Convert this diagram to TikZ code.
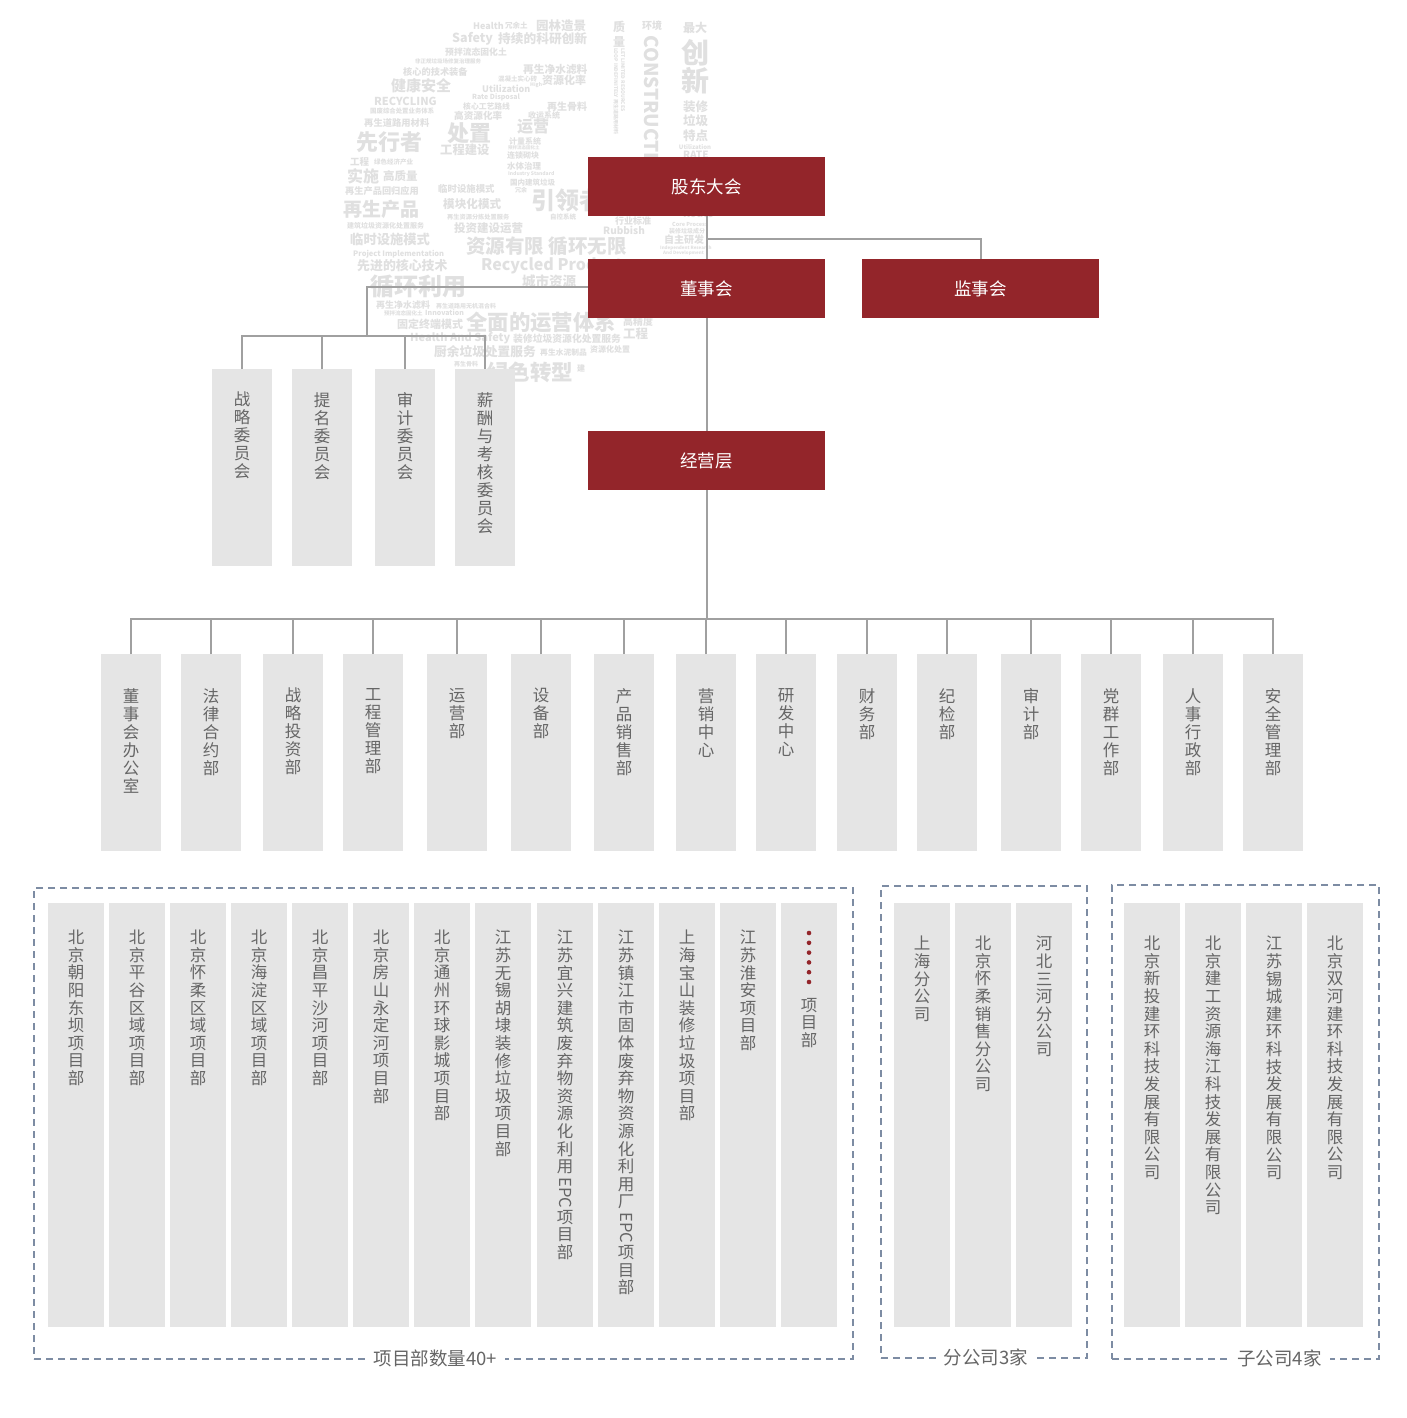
\documentclass[tikz,border=0pt]{standalone}
\usepackage{fontspec}
\setmainfont{Noto Sans CJK SC}
\usepackage{graphicx}
\definecolor{boardred}{RGB}{147,37,42}
\definecolor{boxgray}{RGB}{229,229,229}
\definecolor{txtgray}{RGB}{102,102,102}
\definecolor{linegray}{RGB}{160,160,160}
\definecolor{dashblue}{RGB}{125,140,163}
\definecolor{cloudgray}{RGB}{224,224,224}
\ExplSyntaxOn
\NewDocumentCommand\vstack{O{18}m}{
  \tl_set:No \l_tmpa_tl {#2}
  \vbox{\baselineskip=#1pt \lineskiplimit=0pt \lineskip=2pt
    \tl_map_inline:Nn \l_tmpa_tl {\hbox~to~1.2em{\hss##1\hss}}}
}
\ExplSyntaxOff
\newcommand\rotlatin[1]{\raisebox{0.78em}{\rotatebox{-90}{#1}}}
\begin{document}
\begin{tikzpicture}[x=1pt,y=-1pt,
  redbox/.style={fill=boardred,text=white,minimum width=237pt,minimum height=59pt,inner sep=0pt,font=\fontsize{17.5}{20}\selectfont},
  gbox/.style={fill=boxgray,inner sep=0pt,anchor=north west},
  vtxt/.style={text=txtgray,inner sep=0pt,anchor=north,font=\fontsize{16.5}{18}\selectfont},
  conn/.style={draw=linegray,line width=2pt},
  dashframe/.style={draw=dashblue,line width=2pt,dash pattern=on 7pt off 5pt,inner sep=0pt,anchor=north west},
  flabel/.style={fill=white,text=txtgray,inner xsep=8pt,inner ysep=2pt,font=\fontsize{18.5}{20}\selectfont},
  cloud/.style={text=cloudgray,inner sep=0pt,anchor=west}]
\fill[white] (0,0) rectangle (1407,1418);
\useasboundingbox (0,0) rectangle (1407,1418);

% ---------- background word cloud ----------
\foreach \x/\y/\s/\t [count=\i] in {
 473/26/9/Health, 505/26/7.5/冗余土, 536/26/12.5/园林造景,
 452/39/12.5/Safety, 498/39/12.7/持续的科研创新,
 445/52/8.8/预拌流态固化土, 415/61/5.5/非正规垃圾场修复治理服务,
 403/72/9.2/核心的技术装备, 523/69/10.7/再生净水滤料, 498/79/6.5/混凝土实心砖,
 542/80/11/资源化率, 391/86/15/健康安全, 482/89/9/Utilization, 530/85/5/High,
 374/101/11/RECYCLING, 472/97/7/Rate Disposal, 370/111/6.4/国废综合处置业务体系,
 463/106/7.8/核心工艺路线, 547/107/10/再生骨料, 454/116/9.6/高资源化率,
 528/115/8/收运系统, 364/123/9.3/再生道路用材料,
 356/142/22/先行者, 447/133/22/处置, 517/127/16/运营, 440/150/12.3/工程建设,
 509/141/8/计量系统, 508/148/4.5/预拌流态固化土, 507/156/8/连锁砌块, 507/166/8.5/水体治理,
 508/174/5/Industry Standard, 510/183/7.5/国内建筑垃圾, 515/190/6/冗余,
 350/162/9.5/工程, 374/162/6.5/绿色经济产业,
 347/176/16/实施, 383/176/11.5/高质量, 345/191/9.2/再生产品回归应用, 438/189/9.4/临时设施模式,
 531/200/24/引领者, 343/209/19/再生产品, 443/204/11.6/模块化模式, 550/217/6.5/自控系统,
 347/226/7/建筑垃圾资源化处置服务, 447/217/6.2/再生资源分拣处置服务, 454/228/11.5/投资建设运营,
 350/239/13.3/临时设施模式, 466/246/19.5/资源有限 循环无限, 353/254/7.5/Project Implementation,
 357/266/12.9/先进的核心技术, 481/266/16/Recycled Products, 522/281/13.5/城市资源,
 370/287/24/循环利用, 376/305/9/再生净水滤料, 436/306/6/再生道路用无机混合料,
 384/313/5.5/预拌流态固化土, 425/313/7/Innovation, 397/324/11/固定终端模式,
 466/322/21.4/全面的运营体系, 623/322/10/高精度, 410/338/11/Health And Safety,
 513/339/9.8/装修垃圾资源化处置服务, 623/334/12.5/工程, 434/352/12.7/厨余垃圾处置服务,
 540/353/7.8/再生水泥制品, 590/349/8/资源化处置, 454/364/6/再生骨料, 487/372/21.5/绿色转型,
 577/368/8/建, 642/26/10/环境, 683/28/12/最大,
 683/107/12.5/装修, 683/121/12.5/垃圾, 683/136/12.5/特点, 683/155/10/RATE,
 615/221/9/行业标准, 603/230/10/Rubbish, 672/224/5.5/Core Process, 683/214/10/Route,
 669/231/6/装修垃圾成分, 664/240/10/自主研发, 660/248/4.5/Independent Research, 663/253/4.5/And Development}
 {\node[cloud,font={\bfseries\fontsize{\s}{\s}\selectfont}] (cw\i) at (\x,\y) {\t};}
\node[cloud,anchor=center,font={\bfseries\fontsize{12}{12}\selectfont}] (cz1) at (619,27) {质};
\node[cloud,anchor=center,font={\bfseries\fontsize{12}{12}\selectfont}] (cz2) at (619,42) {量};
\node[cloud,anchor=center,font={\bfseries\fontsize{28}{28}\selectfont}] (cz3) at (695,53) {创};
\node[cloud,anchor=center,font={\bfseries\fontsize{28}{28}\selectfont}] (cz4) at (695,81) {新};
\node[cloud,anchor=center,font={\bfseries\fontsize{6}{6}\selectfont}] (cz5) at (695,147) {Utilization};
\node[cloud,rotate=-90,font={\bfseries\fontsize{19}{19}\selectfont}] (cz6) at (652,35) {CONSTRUCTION};
\node[cloud,rotate=-90,font={\bfseries\fontsize{5}{5}\selectfont}] (cz7) at (623,48) {LET LIMITED RESOURCES};
\node[cloud,rotate=-90,font={\bfseries\fontsize{5}{5}\selectfont}] (cz8) at (616,48) {LOOP INDEFINITELY 再生道路用材料};

% ---------- top boxes ----------
\node[redbox] (gd)  at (706.5,186.5) {股东大会};
\node[redbox] (dsh) at (706.5,288.5) {董事会};
\node[redbox] (jsh) at (980.5,288.5) {监事会};
\node[redbox] (jyc) at (706.5,460.5) {经营层};

% ---------- committees ----------
\foreach \l/\t [count=\i] in {212/战略委员会,292/提名委员会,375/审计委员会,455/薪酬与考核委员会}{
  \node[gbox,minimum width=60pt,minimum height=197pt] (c\i) at (\l,369) {};
  \node[vtxt] (ct\i) at ([yshift=-23pt]c\i.north) {\vstack{\t}};
}

% ---------- departments ----------
\foreach \l/\t [count=\i] in {101/董事会办公室,181/法律合约部,263/战略投资部,343/工程管理部,427/运营部,511/设备部,594/产品销售部,676/营销中心,756/研发中心,837/财务部,917/纪检部,1001/审计部,1081/党群工作部,1163/人事行政部,1243/安全管理部}{
  \node[gbox,minimum width=60pt,minimum height=197pt] (d\i) at (\l,654) {};
  \node[vtxt] (dt\i) at ([yshift=-34pt]d\i.north) {\vstack{\t}};
}

% ---------- connectors ----------
\coordinate (b1) at (706.5,239);
\coordinate (cb) at (367,336);
\coordinate (bus) at (706.5,619);
\draw[conn] (gd.south) -- (dsh.north);
\draw[conn] (b1) -| (jsh.north);
\draw[conn] (dsh.south) -- (jyc.north);
\draw[conn] (jyc.south) -- (bus);
\draw[conn] ([yshift=1.5pt]dsh.west) -| (cb);
\draw[conn] (c1.north) -- (c1.north |- cb) -- (c4.north |- cb) -- (c4.north);
\draw[conn] (c2.north) -- (c2.north |- cb);
\draw[conn] (c3.north) -- (c3.north |- cb);
\draw[conn] (d1.north) -- (d1.north |- bus) -- (d15.north |- bus) -- (d15.north);
\foreach \i in {2,...,14}{\draw[conn] (d\i.north) -- (d\i.north |- bus);}

% ---------- frames ----------
\node[dashframe,minimum width=819pt,minimum height=471pt] (f1) at (33,887) {};
\node[dashframe,minimum width=206pt,minimum height=472pt] (f2) at (880,885) {};
\node[dashframe,minimum width=267pt,minimum height=474pt] (f3) at (1111,884) {};
\node[flabel] (l1) at (435.5,1358) {项目部数量40+};
\node[flabel] (l2) at (986,1357) {分公司3家};
\node[flabel] (l3) at (1279.5,1358) {子公司4家};

% ---------- project departments ----------
\newcommand\pbox[3]{%
  \node[gbox,minimum width=56pt,minimum height=424pt] (#1) at (#2,903) {};
  \node[vtxt] (#1t) at ([yshift=-27pt]#1.north) {\vstack[17.6]{#3}};}
\pbox{p1}{48}{北京朝阳东坝项目部}
\pbox{p2}{109}{北京平谷区域项目部}
\pbox{p3}{170}{北京怀柔区域项目部}
\pbox{p4}{231}{北京海淀区域项目部}
\pbox{p5}{292}{北京昌平沙河项目部}
\pbox{p6}{353}{北京房山永定河项目部}
\pbox{p7}{414}{北京通州环球影城项目部}
\pbox{p8}{475}{江苏无锡胡埭装修垃圾项目部}
\pbox{p9}{537}{江苏宜兴建筑废弃物资源化利用{\rotlatin{EPC}}项目部}
\pbox{p10}{598}{江苏镇江市固体废弃物资源化利用厂{\rotlatin{EPC}}项目部}
\pbox{p11}{659}{上海宝山装修垃圾项目部}
\pbox{p12}{720}{江苏淮安项目部}
\node[gbox,minimum width=56pt,minimum height=424pt] (p13) at (781,903) {};
\node[vtxt] (p13t) at ([yshift=-95pt]p13.north) {\vstack[17.6]{项目部}};
\foreach \k in {0,...,5}{\fill[boardred] (809,933+9.8*\k) circle (2.3pt);}

% ---------- branches and subsidiaries ----------
\newcommand\bbox[3]{%
  \node[gbox,minimum width=56pt,minimum height=424pt] (#1) at (#2,903) {};
  \node[vtxt] (#1t) at ([yshift=-33pt]#1.north) {\vstack[17.6]{#3}};}
\bbox{q1}{894}{上海分公司}
\bbox{q2}{955}{北京怀柔销售分公司}
\bbox{q3}{1016}{河北三河分公司}
\bbox{s1}{1124}{北京新投建环科技发展有限公司}
\bbox{s2}{1185}{北京建工资源海江科技发展有限公司}
\bbox{s3}{1246}{江苏锡城建环科技发展有限公司}
\bbox{s4}{1307}{北京双河建环科技发展有限公司}
\end{tikzpicture}
\end{document}
